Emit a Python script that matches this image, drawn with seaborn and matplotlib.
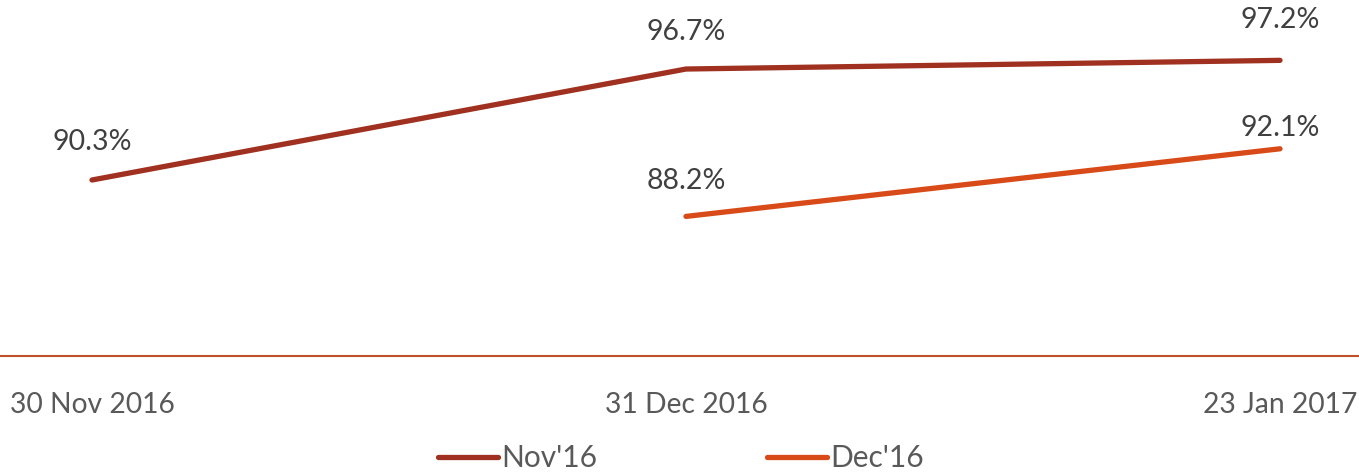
import pandas as pd
import matplotlib.pyplot as plt
import seaborn as sns
import numpy as np

# 数据
dates = ["30 Nov 2016", "31 Dec 2016", "23 Jan 2017"]
nov16 = [90.3, 96.7, 97.2]
dec16 = [np.nan, 88.2, 92.1]
series_names = ["Nov'16", "Dec'16"]

df = pd.DataFrame({
    "pos": list(range(len(dates))) * 2,
    "value": nov16 + dec16,
    "series": [series_names[0]] * len(dates) + [series_names[1]] * len(dates),
})

sns.set_theme(style="white")
plt.rcParams['font.family'] = ['Lato', 'DejaVu Sans']

W, H = 1359, 472
fig = plt.figure(figsize=(W / 100, H / 100), dpi=100)
ax = fig.add_axes([0, 1 - 356 / H, 1, 356 / H])

colors = {"Nov'16": "#A0301F", "Dec'16": "#D84A17"}
sns.lineplot(data=df.dropna(), x="pos", y="value", hue="series", palette=colors,
             linewidth=3.8, ax=ax, legend=False, solid_capstyle="round")

# 数据标签
offsets = {"Nov'16": [38, 37, 40], "Dec'16": [0, 35, 21]}
for name, vals in zip(series_names, [nov16, dec16]):
    for i, v in enumerate(vals):
        if np.isnan(v):
            continue
        ax.annotate(f"{v:.1f}%", (i, v), xytext=(0, offsets[name][i] * 0.72),
                    textcoords="offset points", ha="center", va="center",
                    fontsize=20.5, color="#404040")

ax.set_xlim(-92 / 594, (W - 92) / 594)
ax.set_ylim(80.15, 100.68)
ax.set_xticks(range(len(dates)))
ax.set_xticklabels(dates, fontsize=20.3, color="#595959")
ax.set_yticks([])
ax.set_xlabel("")
ax.set_ylabel("")
ax.tick_params(axis="x", length=0, pad=26)
for s in ["top", "left", "right"]:
    ax.spines[s].set_visible(False)
ax.spines["bottom"].set_color("#C0502B")
ax.spines["bottom"].set_linewidth(1.5)

handles = [plt.Line2D([], [], color=colors[n], lw=3.8, solid_capstyle="round") for n in series_names]
leg = fig.legend(handles, series_names, loc="center", bbox_to_anchor=(681 / W, 1 - 458 / H),
                 ncol=2, frameon=False, fontsize=21.5, handlelength=2.0, handletextpad=0.1,
                 columnspacing=5.7, borderpad=0)
for t in leg.get_texts():
    t.set_color("#595959")

fig.savefig("out.png", dpi=100)
